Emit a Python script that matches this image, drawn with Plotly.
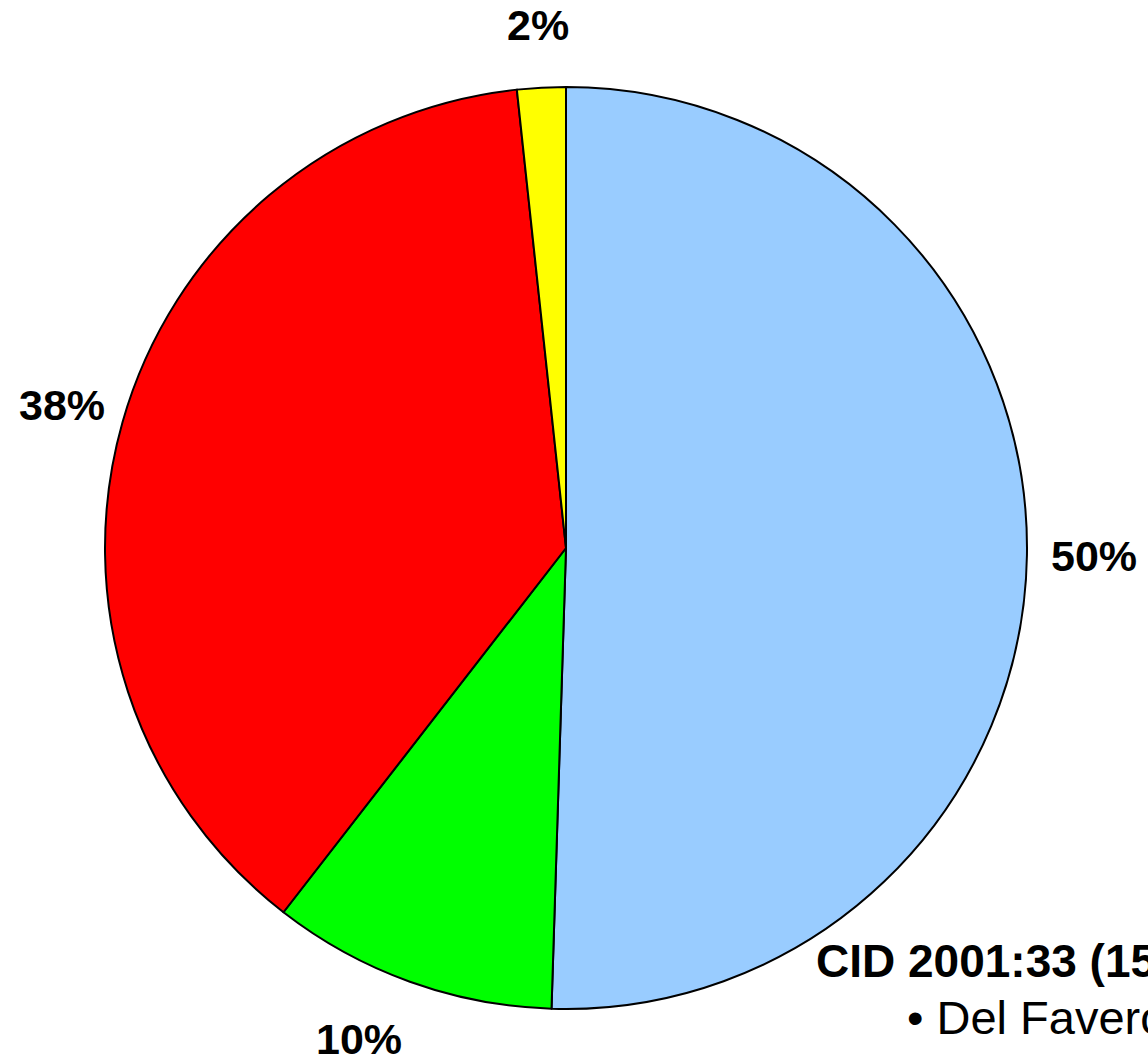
import math
import plotly.graph_objects as go

# Data
categories = ["A", "B", "C", "D"]
values = [50.5, 10.0, 37.8, 1.7]
colors = ["#99CCFF", "#00FF00", "#FF0000", "#FFFF00"]
title_line = "CID 2001:33 (15 Sept)"
sub_line = "\u2022 Del Favero et al."

# label nudges in pixels (layout only)
label_nudge = [(4, 0), (-30, -2), (0, 0), (0, 0)]

W, H = 1148, 1062
cx, cy, r = 566, 548, 461

fig = go.Figure(go.Pie(
    labels=categories,
    values=values,
    sort=False,
    direction="clockwise",
    rotation=0,
    marker=dict(colors=colors, line=dict(color="black", width=2)),
    textinfo="none",
    hoverinfo="label+percent",
    showlegend=False,
    domain=dict(x=[(cx - r) / W, (cx + r) / W],
                y=[(H - (cy + r)) / H, (H - (cy - r)) / H]),
))

# percentage labels placed outside along each slice's mid-angle
total = sum(values)
cum = 0.0
anns = []
R0 = 524
for v, (nx, ny) in zip(values, label_nudge):
    mid = (cum + v / 2) / total * 2 * math.pi
    cum += v
    txt = f"{round(v / total * 100)}%"
    s, c = math.sin(mid), math.cos(mid)
    px = cx + R0 * s + nx
    py = cy - R0 * c + ny
    anns.append(dict(x=px / W, y=(H - py) / H, xref="paper", yref="paper",
                     text=f"<b>{txt}</b>", showarrow=False,
                     xanchor="center", yanchor="middle",
                     font=dict(family="Liberation Sans, Arial", size=43, color="black")))

anns.append(dict(x=814 / W, y=(H - 961) / H, xref="paper", yref="paper",
                 text=f"<b>{title_line}</b>", showarrow=False,
                 xanchor="left", yanchor="middle",
                 font=dict(family="Liberation Sans, Arial", size=46, color="black")))
anns.append(dict(x=905 / W, y=(H - 1017) / H, xref="paper", yref="paper",
                 text=sub_line, showarrow=False,
                 xanchor="left", yanchor="middle",
                 font=dict(family="Liberation Sans, Arial", size=47, color="black")))

fig.update_layout(
    width=W, height=H,
    margin=dict(l=0, r=0, t=0, b=0),
    paper_bgcolor="white", plot_bgcolor="white",
    annotations=anns,
)

fig.write_html("out.html")
